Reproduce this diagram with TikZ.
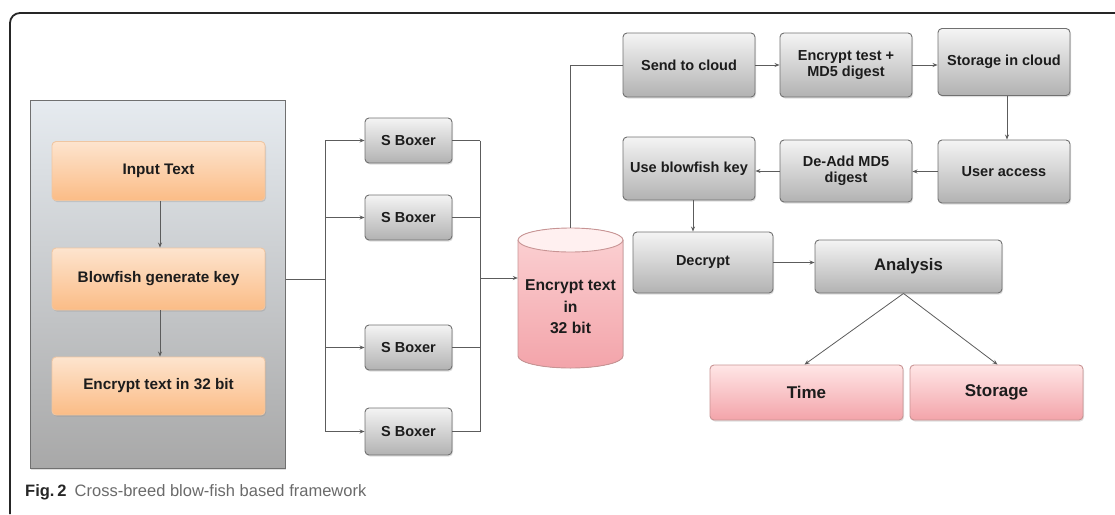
\documentclass[tikz,border=0pt]{standalone}
\usepackage{fontspec}
\setmainfont{Liberation Sans}
\usetikzlibrary{arrows.meta,shadows}

\definecolor{lineC}{HTML}{5C5C5C}
\definecolor{txtC}{HTML}{1C1C1C}
\definecolor{gTop}{HTML}{F4F4F4}
\definecolor{gBot}{HTML}{B2B2B2}
\definecolor{gEdge}{HTML}{707070}
\definecolor{oTop}{HTML}{FDE4CE}
\definecolor{oBot}{HTML}{FBBC86}
\definecolor{oEdge}{HTML}{EFC6A2}
\definecolor{pTop}{HTML}{FFE6E6}
\definecolor{pBot}{HTML}{F3A4AA}
\definecolor{pEdge}{HTML}{C89494}
\definecolor{panTop}{HTML}{E6EBF0}
\definecolor{panBot}{HTML}{A8A8A8}
\definecolor{capC}{HTML}{6A6A6A}

\tikzset{
  boxbase/.style={rounded corners=4pt, draw, line width=0.9pt, align=center,
    text=txtC, font=\bfseries\fontsize{14.5}{16}\selectfont, inner sep=2pt,
    drop shadow={shadow xshift=1pt, shadow yshift=-1.5pt, opacity=0.25}},
  graybox/.style={boxbase, draw=gEdge, top color=gTop, bottom color=gBot},
  orangebox/.style={boxbase, draw=oEdge, top color=oTop, bottom color=oBot,
    font=\bfseries\fontsize{15.3}{17}\selectfont},
  pinkbox/.style={boxbase, draw=pEdge, top color=pTop, bottom color=pBot,
    font=\bfseries\fontsize{17}{19}\selectfont},
  conn/.style={draw=lineC, line width=0.8pt},
  arr/.style={conn, -{Stealth[length=5pt,width=4pt]}},
}

\begin{document}
\begin{tikzpicture}[x=1pt,y=-1pt]
\useasboundingbox (0,0) rectangle (1115,514);

% outer frame
\draw[line width=1.8pt, color=black!85, rounded corners=10pt] (10,514) -- (10,13) -- (1115,13);

% left panel holding the key generation steps
\node[draw=gEdge, line width=1pt, top color=panTop, bottom color=panBot,
      minimum width=255pt, minimum height=368pt, inner sep=0pt,
      drop shadow={shadow xshift=1pt, shadow yshift=-1.5pt, opacity=0.25}]
      (panel) at (157.5,284) {};

\node[orangebox, minimum width=213pt, minimum height=59pt] (inp) at (158.5,171) {Input Text};
\node[orangebox, minimum width=213pt, minimum height=62pt] (blow) at (158.5,279) {Blowfish generate key};
\node[orangebox, minimum width=213pt, minimum height=58pt] (enc32) at (158.5,386) {Encrypt text in 32 bit};
\draw[arr] (inp.south -| 160,0) -- (blow.north -| 160,0);
\draw[arr] (blow.south -| 160,0) -- (enc32.north -| 160,0);

% S boxes
\node[graybox, minimum width=87pt, minimum height=45pt] (s1) at (408.5,140.5) {S Boxer};
\node[graybox, minimum width=87pt, minimum height=45pt] (s2) at (408.5,217.5) {S Boxer};
\node[graybox, minimum width=87pt, minimum height=45pt] (s3) at (408.5,347.5) {S Boxer};
\node[graybox, minimum width=87pt, minimum height=47pt] (s4) at (408.5,431.5) {S Boxer};

\coordinate (jL) at (325,279);
\coordinate (jR) at (480,278);

\draw[conn] (panel.east |- jL) -- (jL);
\draw[conn] (jL |- s1) -- (jL |- s4);
\foreach \s in {s1,s2,s3,s4}{
  \draw[arr] (jL |- \s) -- (\s.west);
  \draw[conn] (\s.east) -- (jR |- \s);
}
\draw[conn] (jR |- s1) -- (jR |- s4);

% storage cylinder
\node[minimum width=105pt, minimum height=140pt, inner sep=0pt] (cyl) at (570.5,298) {};
\fill[top color=pTop!70!pBot, bottom color=pBot]
  (518,240) -- (518,356) arc[start angle=180, end angle=360, x radius=52.5pt, y radius=12pt]
  -- (623,240) arc[start angle=0, end angle=180, x radius=52.5pt, y radius=12pt] -- cycle;
\draw[pEdge, line width=0.9pt]
  (518,240) -- (518,356) arc[start angle=180, end angle=360, x radius=52.5pt, y radius=12pt]
  -- (623,240);
\draw[pEdge, line width=0.9pt, fill=pTop!60!white] (570.5,240) ellipse[x radius=52.5pt, y radius=12pt];
\node[text=txtC, font=\bfseries\fontsize{15.7}{21.5}\selectfont, align=center] (cyltxt) at (570.5,307)
  {Encrypt text\\in\\32 bit};
\draw[arr] (jR) -- (cyl.west |- jR);

% cloud pipeline
\node[graybox, minimum width=132pt, minimum height=64pt] (send) at (689,65) {Send to cloud};
\node[graybox, minimum width=132pt, minimum height=64pt] (md5) at (846,65) {Encrypt test +\\MD5 digest};
\node[graybox, minimum width=132pt, minimum height=67pt] (store) at (1004,62) {Storage in cloud};
\node[graybox, minimum width=132pt, minimum height=63pt] (usekey) at (689,168.5) {Use blowfish key};
\node[graybox, minimum width=132pt, minimum height=62pt] (deadd) at (846,171) {De-Add MD5\\digest};
\node[graybox, minimum width=132pt, minimum height=63pt] (user) at (1004,171.5) {User access};
\node[graybox, minimum width=140pt, minimum height=61pt] (dec) at (703,262.5) {Decrypt};
\node[graybox, minimum width=187pt, minimum height=53pt,
      font=\bfseries\fontsize{16.7}{19}\selectfont] (ana) at (908.5,266.5) {Analysis};
\node[pinkbox, minimum width=193pt, minimum height=55pt] (time) at (806.5,392.5) {Time};
\node[pinkbox, minimum width=173pt, minimum height=55pt] (stg) at (996.5,392.5) {Storage};

\draw[conn] (cyl.north) |- (send.west);
\draw[arr] (send.east) -- (md5.west);
\draw[arr] (md5.east) -- (store.west |- md5.east);
\draw[arr] (store.south -| 1007,0) -- (user.north -| 1007,0);
\draw[arr] (user.west) -- (deadd.east |- user.west);
\draw[arr] (deadd.west) -- (usekey.east |- deadd.west);
\draw[arr] (usekey.south -| 693,0) -- (dec.north -| 693,0);
\draw[arr] (dec.east) -- (ana.west |- dec.east);
\draw[arr] ([xshift=-5pt]ana.south) -- ([xshift=-2pt]time.north);
\draw[arr] ([xshift=-5pt]ana.south) -- ([xshift=1pt]stg.north);

% caption
\node[anchor=west, inner sep=0pt, font=\fontsize{16.5}{18}\selectfont, text=capC] (cap) at (25,492)
  {{\bfseries\color{black!85}Fig.\,2}\enspace Cross-breed blow-fish based framework};
\end{tikzpicture}
\end{document}
